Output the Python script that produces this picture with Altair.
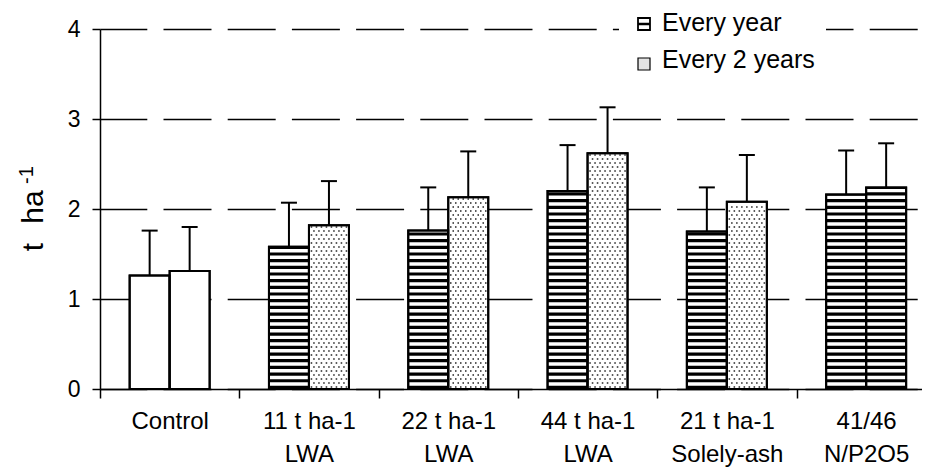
import json
import altair as alt
import numpy as np
import pandas as pd

# ---------------- data ----------------
categories = ["Control", "11 t ha-1|LWA", "22 t ha-1|LWA", "44 t ha-1|LWA",
              "21 t ha-1|Solely-ash", "41/46|N/P2O5"]
series_names = ["Every year", "Every 2 years"]
every_year = [1.26, 1.58, 1.76, 2.20, 1.75, 2.16]
every_year_sd = [0.50, 0.49, 0.48, 0.51, 0.49, 0.49]
every_2_years = [1.31, 1.82, 2.13, 2.62, 2.08, 2.24]
every_2_years_sd = [0.49, 0.49, 0.51, 0.51, 0.52, 0.49]
pattern_year = ["plain", "stripes", "stripes", "stripes", "stripes", "stripes"]
pattern_2years = ["plain", "dots", "dots", "dots", "dots", "stripes"]
y_ticks = [0, 1, 2, 3, 4]

# ---------------- layout constants (pixels -> data units) ----------------
CAT_PX = 139.3          # pixels per category on x
Y_PX = 90.0             # pixels per unit on y
PLOT_W = 822
X_MAX = PLOT_W / CAT_PX
BW = 40 / CAT_PX        # bar width in category units
CAP = 8 / CAT_PX        # half cap width
STRIPE_P = 6.67 / Y_PX
STRIPE_B = 3.2 / Y_PX
DOT_DX = 5.0 / CAT_PX
DOT_DY = 4.0 / Y_PX

rows = []
for i, cat in enumerate(categories):
    c = i + 0.5
    for s, (vals, sds, pats) in enumerate([(every_year, every_year_sd, pattern_year),
                                           (every_2_years, every_2_years_sd, pattern_2years)]):
        x0 = c - BW if s == 0 else c
        rows.append(dict(cat=cat, series=series_names[s], x0=x0, x1=x0 + BW, xc=x0 + BW / 2,
                         v=vals[i], top=vals[i] + sds[i], zero=0.0,
                         cl=x0 + BW / 2 - CAP, cr=x0 + BW / 2 + CAP, pat=pats[i]))
bars = pd.DataFrame(rows)

# decorative fill patterns derived from the bars
stripe_rows, dot_rows = [], []
for _, b in bars.iterrows():
    if b.pat == "stripes":
        k = 0
        while k * STRIPE_P < b.v:
            y0 = k * STRIPE_P
            stripe_rows.append(dict(x0=b.x0, x1=b.x1, y0=y0, y1=min(y0 + STRIPE_B, b.v)))
            k += 1
    elif b.pat == "dots":
        r = 0
        y = DOT_DY / 2
        while y < b.v - DOT_DY / 3:
            x = b.x0 + DOT_DX / 2 + (DOT_DX / 2 if r % 2 else 0)
            while x < b.x1 - DOT_DX / 4:
                dot_rows.append(dict(x=x, y=y))
                x += DOT_DX
            y += DOT_DY
            r += 1
stripes = pd.DataFrame(stripe_rows)
dots = pd.DataFrame(dot_rows)

FONT = "Liberation Sans"
xs = alt.Scale(domain=[0, X_MAX], nice=False, zero=False)
ys = alt.Scale(domain=[0, 4], nice=False, zero=False)

label_expr = ("datum.value % 1 == 0 ? '' : split(" + json.dumps(categories)
              + "[floor(datum.value)], '|')")
x_axis = alt.Axis(values=[k / 2 for k in range(12)], title=None, grid=False,
                  labelExpr=label_expr,
                  tickOpacity={"condition": {"test": "datum.value % 1 != 0", "value": 0}, "value": 1},
                  tickSize=9, tickWidth=1.5, tickColor="black",
                  domainColor="black", domainWidth=1.5,
                  labelFont=FONT, labelFontSize=24, labelColor="black",
                  labelPadding=11, labelLineHeight=33, labelOverlap=False,
                  labelFlush=False, labelBound=False)
y_axis = alt.Axis(values=y_ticks, title=None, grid=True, gridColor="black", gridWidth=1.5,
                  gridDash=[48, 16.2], gridDashOffset=1.2,
                  tickSize=8, tickWidth=1.5, tickColor="black",
                  domainColor="black", domainWidth=1.5,
                  labelFont=FONT, labelFontSize=23, labelColor="black",
                  labelPadding=12, format="d")

one = pd.DataFrame({"a": [0]})

legend_bg = alt.Chart(one).mark_rect(fill="white").encode(
    x=alt.value(519), x2=alt.value(726), y=alt.value(-19), y2=alt.value(16))

base = alt.Chart(bars).mark_rect(fill="white", stroke="black", strokeWidth=2).encode(
    x=alt.X("x0:Q", scale=xs, axis=x_axis), x2="x1:Q",
    y=alt.Y("v:Q", scale=ys, axis=y_axis), y2="zero:Q")

stripe_layer = alt.Chart(stripes).mark_rect(fill="black").encode(
    x=alt.X("x0:Q", scale=xs), x2="x1:Q", y=alt.Y("y0:Q", scale=ys), y2="y1:Q")

dot_layer = alt.Chart(dots).mark_square(size=2.4, color="#2a2a2a", opacity=1).encode(
    x=alt.X("x:Q", scale=xs), y=alt.Y("y:Q", scale=ys))

outline = alt.Chart(bars).mark_rect(fill="white", fillOpacity=0, stroke="black", strokeWidth=2).encode(
    x=alt.X("x0:Q", scale=xs), x2="x1:Q", y=alt.Y("v:Q", scale=ys), y2="zero:Q")

stems = alt.Chart(bars).mark_rule(color="black", strokeWidth=2).encode(
    x=alt.X("xc:Q", scale=xs), y=alt.Y("v:Q", scale=ys), y2="top:Q")

caps = alt.Chart(bars).mark_rule(color="black", strokeWidth=2).encode(
    x=alt.X("cl:Q", scale=xs), x2="cr:Q", y=alt.Y("top:Q", scale=ys))

# legend (manual, to show the fill patterns)
icon1 = alt.Chart(one).mark_rect(fill="white", stroke="black", strokeWidth=1.8).encode(
    x=alt.value(538), x2=alt.value(550), y=alt.value(-11), y2=alt.value(1))
icon1_bar = alt.Chart(one).mark_rule(color="black", strokeWidth=2.5).encode(
    x=alt.value(538), x2=alt.value(550), y=alt.value(-5))
icon2 = alt.Chart(one).mark_rect(fill="#e4e4e4", stroke="black", strokeWidth=1.2).encode(
    x=alt.value(538), x2=alt.value(550), y=alt.value(29), y2=alt.value(41))
leg_t1 = alt.Chart(one).mark_text(text=series_names[0], font=FONT, fontSize=25, align="left",
                                  baseline="middle", color="black").encode(
    x=alt.value(562), y=alt.value(-6))
leg_t2 = alt.Chart(one).mark_text(text=series_names[1], font=FONT, fontSize=25, align="left",
                                  baseline="middle", color="black").encode(
    x=alt.value(562), y=alt.value(31))

# y-axis title  "t  ha^-1"
yt1 = alt.Chart(one).mark_text(text="t", font=FONT, fontSize=30, angle=270, align="center",
                               baseline="alphabetic", color="black").encode(
    x=alt.value(-57), y=alt.value(218))
yt2 = alt.Chart(one).mark_text(text="ha", font=FONT, fontSize=30, angle=270, align="center",
                               baseline="alphabetic", color="black").encode(
    x=alt.value(-57), y=alt.value(178))
yt3 = alt.Chart(one).mark_text(text="-1", font=FONT, fontSize=20, angle=270, align="center",
                               baseline="alphabetic", color="black").encode(
    x=alt.value(-67), y=alt.value(146))

chart = alt.layer(
    legend_bg, base, stripe_layer, dot_layer, outline, stems, caps,
    icon1, icon1_bar, icon2, leg_t1, leg_t2, yt1, yt2, yt3
).properties(
    width=PLOT_W, height=360,
    autosize=alt.AutoSizeParams(type="none"),
    padding={"left": 92, "top": 21, "right": 0, "bottom": 78},
    background="white",
).configure_view(stroke=None)

chart.save("out.html", embed_options={"renderer": "svg", "actions": False})
